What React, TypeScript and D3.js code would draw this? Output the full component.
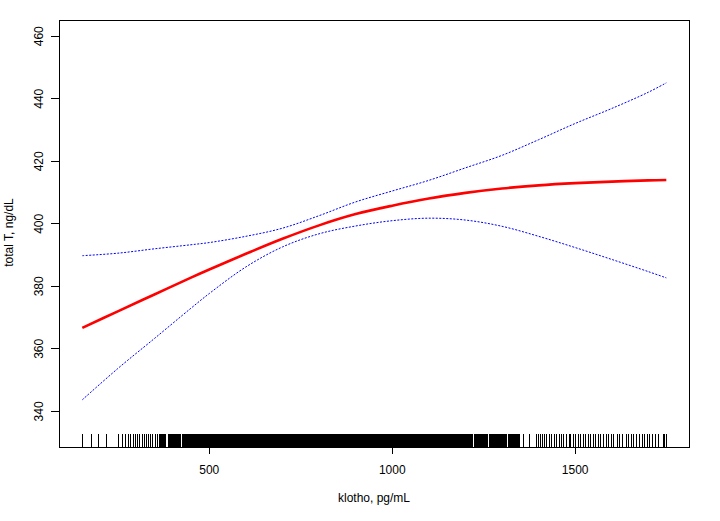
import React from "react";
import * as d3 from "d3";

// ---- data ----
const xGrid = [153, 250, 350, 450, 500, 600, 700, 800, 900, 1000, 1100, 1200, 1300, 1400, 1500, 1600, 1700, 1749];
const fitValues = [366.7, 372.0, 377.4, 382.8, 385.4, 390.4, 395.2, 399.5, 403.1, 405.8, 408.1, 409.9, 411.3, 412.3, 413.0, 413.5, 413.9, 414.0];
const upperValues = [389.8, 390.6, 392.0, 393.3, 394.0, 396.0, 398.6, 402.6, 407.0, 410.5, 413.9, 417.9, 421.9, 426.9, 432.1, 436.9, 442.1, 445.1];
const lowerValues = [343.7, 353.7, 363.3, 373.0, 377.7, 386.2, 392.6, 396.8, 399.3, 401.0, 401.8, 401.2, 399.2, 396.0, 392.4, 388.6, 384.7, 382.7];

const xTicks = [500, 1000, 1500];
const yTicks = [340, 360, 380, 400, 420, 440, 460];
const xLabel = "klotho, pg/mL";
const yLabel = "total T, ng/dL";

// rug observations (thin, isolated ticks)
const rugSparse = [153, 177, 196, 220, 251, 263, 272, 278, 286, 292, 297, 303, 310, 317, 322, 328, 335, 340, 346, 354, 358,
  1347, 1360, 1374, 1394, 1399, 1404, 1411, 1415, 1422, 1429, 1435, 1443, 1449, 1456, 1463, 1469, 1477,
  1484, 1488, 1495, 1502, 1508, 1515, 1522, 1528, 1535, 1542, 1549, 1556, 1563, 1570, 1577, 1586, 1592, 1599, 1606,
  1615, 1622, 1629, 1640, 1647, 1654, 1658, 1668, 1675, 1684, 1690, 1697, 1704, 1711, 1720, 1729, 1740, 1745, 1749];
// rug observations in the crowded middle (they merge into a solid band)
const rugDense = [
  364, 368, 372, 376, 380, 390, 394, 398, 402, 406, 410, 414, 421, 427,
  430, 435, 440, 445, 450, 455, 460, 465, 470, 475, 480, 485, 490, 495,
  500, 505, 510, 515, 520, 525, 530, 535, 540, 545, 550, 555, 560, 565, 570, 575, 580, 585, 590, 595,
  600, 605, 610, 615, 620, 625, 630, 635, 640, 645, 650, 655, 660, 665, 670, 675, 680, 685, 690, 695,
  700, 705, 710, 715, 720, 725, 730, 735, 740, 745, 750, 755, 760, 765, 770, 775, 780, 785, 790, 795,
  800, 805, 810, 815, 820, 825, 830, 835, 840, 845, 850, 855, 860, 865, 870, 875, 880, 885, 890, 895,
  900, 905, 910, 915, 920, 925, 930, 935, 940, 945, 950, 955, 960, 965, 970, 975, 980, 985, 990, 995,
  1000, 1005, 1010, 1015, 1020, 1025, 1030, 1035, 1040, 1045, 1050, 1055, 1060, 1065, 1070, 1075, 1080, 1085, 1090, 1095,
  1100, 1105, 1110, 1115, 1120, 1125, 1130, 1135, 1140, 1145, 1150, 1155, 1160, 1165, 1170, 1175, 1180, 1185, 1190, 1195,
  1200, 1205, 1210, 1215, 1218,
  1226, 1231, 1236, 1241, 1246, 1251, 1255, 1258, 1268, 1273, 1278, 1283, 1288, 1293, 1298, 1303, 1308, 1311,
  1320, 1325, 1330, 1335, 1340, 1344];

const W = 720;
const H = 521;
const L = 59, R = 689, T = 20, B = 447;
const FONT = "'Liberation Sans', Arial, sans-serif";

export default function App() {
  const x = d3.scaleLinear().domain([89.3, 1811]).range([L, R]);
  const y = d3.scaleLinear().domain([328.6, 465.2]).range([B, T]);

  const mk = (vals: number[]) =>
    d3.line<number>()
      .x((_, i) => x(xGrid[i]))
      .y((v) => y(v))
      .curve(d3.curveCatmullRom.alpha(0.5))(vals) || "";

  return (
    <svg width={W} height={H} style={{ position: "absolute", left: 0, top: 0, background: "#fff" }}>
      <rect x={0} y={0} width={W} height={H} fill="#fff" />
      {/* rug */}
      <g>
        {rugSparse.map((v, i) => (
          <line key={"s" + i} x1={x(v)} x2={x(v)} y1={B} y2={B - 13} stroke="#000" strokeWidth={1} shapeRendering="crispEdges" />
        ))}
        {rugDense.map((v, i) => (
          <line key={"d" + i} x1={x(v)} x2={x(v)} y1={B} y2={B - 13} stroke="#000" strokeWidth={2} shapeRendering="crispEdges" />
        ))}
      </g>
      {/* curves */}
      <path d={mk(upperValues)} fill="none" stroke="#0000ff" strokeWidth={1} strokeDasharray="2,1.5" />
      <path d={mk(lowerValues)} fill="none" stroke="#0000ff" strokeWidth={1} strokeDasharray="2,1.5" />
      <path d={mk(fitValues)} fill="none" stroke="#ff0000" strokeWidth={2.6} />
      {/* box */}
      <rect x={L} y={T} width={R - L} height={B - T} fill="none" stroke="#000" strokeWidth={1} shapeRendering="crispEdges" />
      {/* x axis */}
      {xTicks.map((t) => (
        <g key={t}>
          <line x1={x(t)} x2={x(t)} y1={B} y2={B + 7} stroke="#000" shapeRendering="crispEdges" />
          <text x={x(t)} y={474} textAnchor="middle" fontFamily={FONT} fontSize={12} fill="#000">{t}</text>
        </g>
      ))}
      {/* y axis */}
      {yTicks.map((t) => (
        <g key={t}>
          <line x1={L - 8} x2={L} y1={y(t)} y2={y(t)} stroke="#000" shapeRendering="crispEdges" />
          <text transform={`translate(43,${y(t)}) rotate(-90)`} textAnchor="middle" fontFamily={FONT} fontSize={12} fill="#000">{t}</text>
        </g>
      ))}
      <text x={(L + R) / 2} y={502} textAnchor="middle" fontFamily={FONT} fontSize={12} fill="#000">{xLabel}</text>
      <text transform={`translate(13,${(T + B) / 2 - 1}) rotate(-90)`} textAnchor="middle" fontFamily={FONT} fontSize={12} fill="#000">{yLabel}</text>
    </svg>
  );
}
